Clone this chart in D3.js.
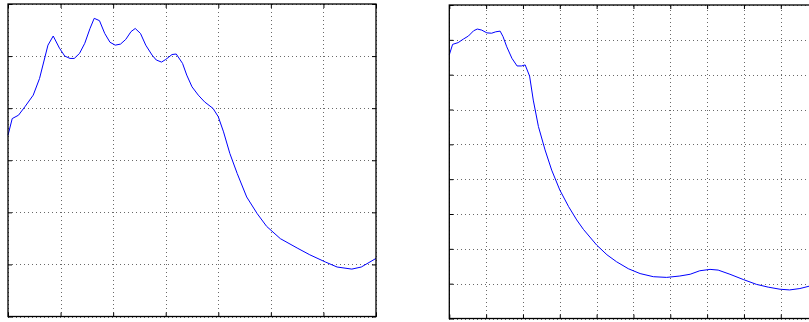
<!DOCTYPE html>
<html>
<head>
<meta charset="utf-8">
<script src="https://cdn.jsdelivr.net/npm/d3@7"></script>
<style>
  body { margin: 0; background: #fff; }
  svg { display: block; }
</style>
</head>
<body>
<svg id="chart" width="809" height="322"></svg>
<script>
// ---- Data ----
// Left panel: wavelength (nm) / absorbance
const left_x = [400, 404, 410, 416, 424, 430, 438, 443, 449, 454, 459, 463, 468, 473, 478, 482,
    487, 492, 497, 502, 507, 512, 517, 521, 526, 531, 537, 541, 546, 550, 556, 560, 566, 570,
    575, 581, 587, 595, 600, 605, 611, 618, 627, 637, 646, 659, 675, 687, 702, 713, 727, 736, 750];
const left_y = [0.696, 0.760, 0.773, 0.805, 0.850, 0.914, 1.042, 1.077, 1.030, 1.000, 0.991, 0.991,
    1.010, 1.049, 1.106, 1.145, 1.136, 1.087, 1.053, 1.042, 1.046, 1.064, 1.094, 1.106, 1.087,
    1.042, 1.004, 0.985, 0.977, 0.987, 1.006, 1.008, 0.972, 0.927, 0.882, 0.850, 0.824, 0.799,
    0.767, 0.709, 0.626, 0.549, 0.459, 0.395, 0.346, 0.299, 0.263, 0.237, 0.209, 0.190, 0.182,
    0.190, 0.223];
const left_x_ticks = [400, 450, 500, 550, 600, 650, 700, 750];
const left_y_ticks = [0, 0.2, 0.4, 0.6, 0.8, 1.0, 1.2];

// Right panel
const right_x = [400, 404.5, 412, 419, 426, 433, 438, 444, 451, 457.5, 463, 469, 473, 478, 485,
    492, 498, 503, 509, 514, 521, 530, 539, 550, 562, 573, 582, 600, 614, 627, 643, 659, 677,
    695, 713, 727, 740, 754, 765, 781, 799, 817, 833, 849, 862, 876, 889, 900];
const right_y = [0.757, 0.787, 0.792, 0.802, 0.811, 0.826, 0.831, 0.828, 0.820, 0.819, 0.823,
    0.825, 0.809, 0.780, 0.747, 0.725, 0.725, 0.728, 0.696, 0.627, 0.551, 0.484, 0.426, 0.369,
    0.321, 0.283, 0.256, 0.211, 0.183, 0.163, 0.143, 0.129, 0.120, 0.118, 0.122, 0.127, 0.137,
    0.141, 0.139, 0.127, 0.112, 0.098, 0.090, 0.084, 0.082, 0.086, 0.093, 0.098];
const right_x_ticks = [400, 450, 500, 550, 600, 650, 700, 750, 800, 850, 900];
const right_y_ticks = [0, 0.1, 0.2, 0.3, 0.4, 0.5, 0.6, 0.7, 0.8, 0.9];

const svg = d3.select('#chart');

// Draw one framed panel with dotted grid, inward ticks and the blue curve
function draw_panel(box, xs, ys, x_ticks, y_ticks) {
    const x = d3.scaleLinear()
        .domain(d3.extent(x_ticks))
        .range([box.left, box.right]);
    const y = d3.scaleLinear()
        .domain(d3.extent(y_ticks))
        .range([box.bottom, box.top]);
    const h = box.bottom - box.top, w = box.right - box.left;

    const g = svg.append('g');

    // Dotted grid lines
    g.append('g')
        .attr('transform', 'translate(0,' + box.bottom + ')')
        .call(d3.axisBottom(x).tickValues(x_ticks).tickSize(-h).tickFormat(''))
        .call(a => a.select('.domain').remove());
    g.append('g')
        .attr('transform', 'translate(' + box.left + ',0)')
        .call(d3.axisLeft(y).tickValues(y_ticks).tickSize(-w).tickFormat(''))
        .call(a => a.select('.domain').remove());
    g.selectAll('.tick line')
        .attr('stroke', '#444')
        .attr('stroke-width', 0.8)
        .attr('stroke-dasharray', '1,3')
        .attr('shape-rendering', 'crispEdges');

    // Inward tick marks on all four sides
    const tick_len = 4;
    const sides = [
        [d3.axisBottom(x).tickValues(x_ticks), 'translate(0,' + box.bottom + ')'],
        [d3.axisTop(x).tickValues(x_ticks), 'translate(0,' + box.top + ')'],
        [d3.axisLeft(y).tickValues(y_ticks), 'translate(' + box.left + ',0)'],
        [d3.axisRight(y).tickValues(y_ticks), 'translate(' + box.right + ',0)']
    ];
    sides.forEach(function (s) {
        g.append('g')
            .attr('transform', s[1])
            .call(s[0].tickSize(-tick_len).tickFormat(''))
            .call(a => a.select('.domain').remove())
            .selectAll('.tick line')
            .attr('stroke', '#000')
            .attr('stroke-width', 1);
    });

    // The curve
    const line = d3.line()
        .x(function (d) { return x(d[0]); })
        .y(function (d) { return y(d[1]); });
    g.append('path')
        .datum(d3.zip(xs, ys))
        .attr('fill', 'none')
        .attr('stroke', '#0000ff')
        .attr('stroke-width', 1)
        .attr('d', line);

    // Frame
    g.append('rect')
        .attr('x', box.left)
        .attr('y', box.top)
        .attr('width', w)
        .attr('height', h)
        .attr('fill', 'none')
        .attr('stroke', '#000')
        .attr('stroke-width', 1.3);
}

draw_panel({ left: 8, right: 376, top: 4, bottom: 316.5 },
    left_x, left_y, left_x_ticks, left_y_ticks);
draw_panel({ left: 449.3, right: 817.6, top: 5, bottom: 318.5 },
    right_x, right_y, right_x_ticks, right_y_ticks);
</script>
</body>
</html>
